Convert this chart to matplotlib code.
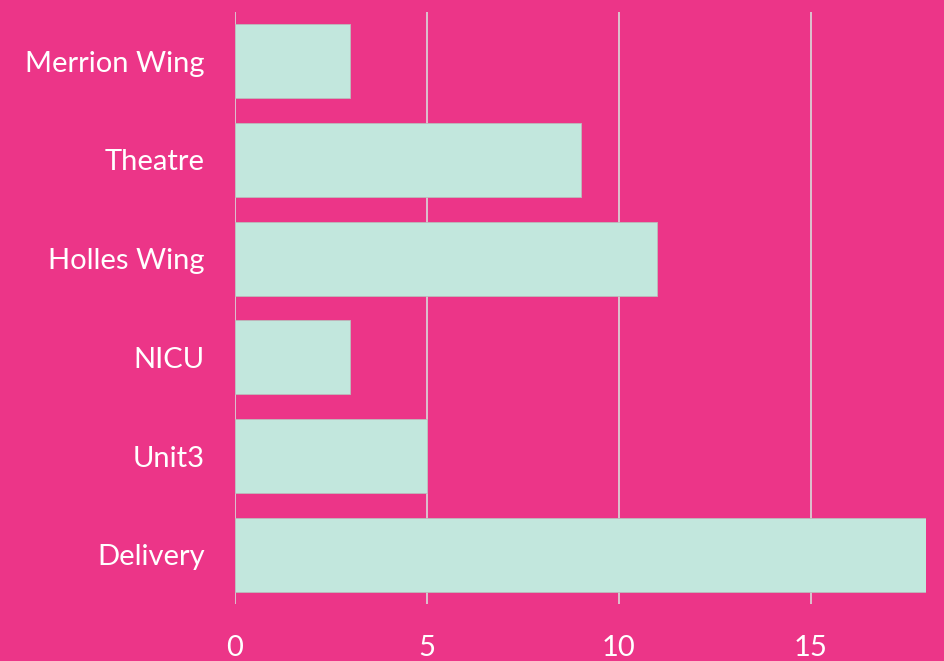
import numpy as np
from matplotlib import pyplot as plt

categories = ["Merrion Wing", "Theatre", "Holles Wing", "NICU", "Unit3", "Delivery"]
values = [3, 9, 11, 3, 5, 18]
xticks = [0, 5, 10, 15]

pink = "#EC3588"
mint = "#C2E7DD"
grid = "#D9D9D9"

plt.rcParams['font.family'] = ['Lato', 'DejaVu Sans']

fig = plt.figure(figsize=(9.44, 6.61), dpi=100, facecolor=pink)
ax = fig.add_axes([0.249, 0.086, 0.732, 0.896], facecolor=pink)

y = np.arange(len(categories))
ax.barh(y, values, height=0.75, color=mint, edgecolor="#BBBBBB", linewidth=0.6, zorder=3)
ax.set_ylim(len(categories) - 0.5, -0.5)
ax.set_xlim(0, 18)

ax.set_yticks(y)
ax.set_yticklabels(categories)
ax.set_xticks(xticks)
ax.tick_params(axis='y', length=0, pad=22, labelsize=21, labelcolor="white")
ax.tick_params(axis='x', length=0, pad=22, labelsize=21, labelcolor="white")

ax.grid(axis='x', color=grid, linewidth=1.2, zorder=0)
for s in ax.spines.values():
    s.set_visible(False)

fig.savefig("out.png", dpi=100, facecolor=pink)
